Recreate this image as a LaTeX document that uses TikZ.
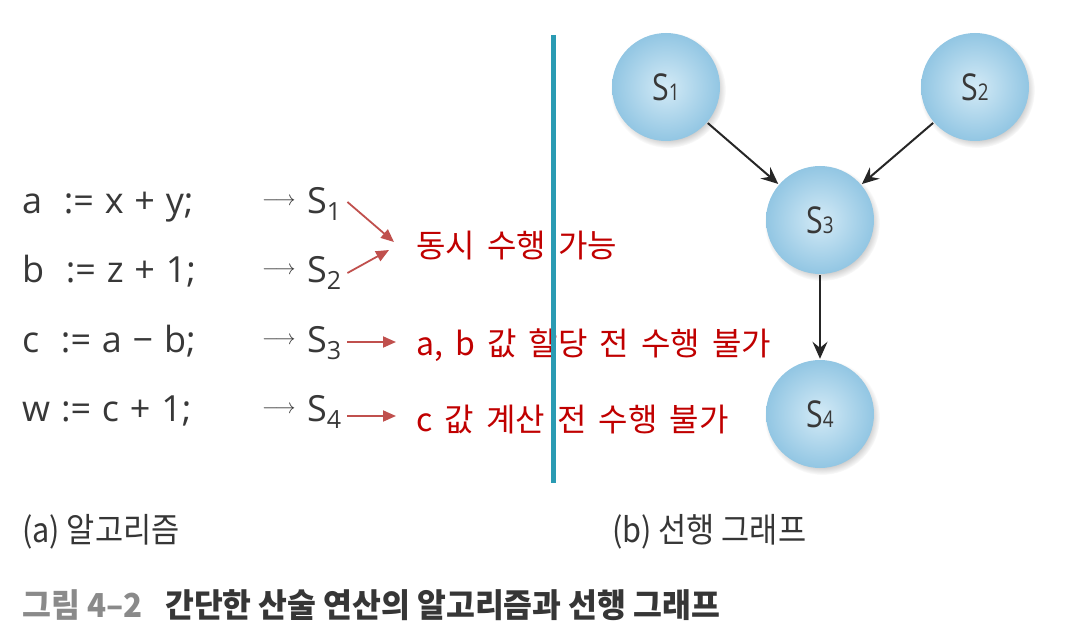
\documentclass[tikz,border=0pt]{standalone}
\usepackage{fontspec}
\setmainfont{Open Sans}
\newfontfamily\kr{Noto Sans CJK KR}
\newfontfamily\krc{Noto Sans CJK KR}[FakeStretch=0.9]
\newfontfamily\krcap{Noto Sans CJK KR}[FakeStretch=0.95]
\newfontfamily\ballfont{Open Sans}[FakeStretch=0.82]
\usetikzlibrary{arrows.meta,shadows}
\definecolor{codegray}{HTML}{383838}
\definecolor{redtxt}{HTML}{C00000}
\definecolor{redarr}{HTML}{C0504D}
\definecolor{teal}{HTML}{2A9BB3}
\definecolor{ballin}{HTML}{D3EAF6}
\definecolor{ballout}{HTML}{92C6E3}
\definecolor{capgray}{HTML}{8A8A8A}
\definecolor{capdark}{HTML}{363636}
\newcommand{\codefont}{\fontsize{36}{36}\selectfont\spaceskip 0.3em\relax}
\newcommand{\notefont}{\kr\fontsize{32}{32}\selectfont\spaceskip 0.38em\relax}
\tikzset{
  codeline/.style={anchor=base west, inner sep=0pt, font=\codefont, text=codegray},
  stext/.style={anchor=base west, inner sep=0pt, font=\fontsize{36}{36}\selectfont, text=codegray},
  arrglyph/.style={anchor=base west, inner sep=0pt, text=codegray},
  note/.style={anchor=west, inner sep=0pt, font=\notefont, text=redtxt},
  redarrow/.style={draw=redarr, line width=1.8pt, -{Triangle[length=13pt,width=11pt]}},
  ball/.style={circle, minimum size=108pt, inner sep=0pt, inner color=ballin, outer color=ballout,
     circular drop shadow={shadow xshift=2pt, shadow yshift=-3pt, shadow scale=1.07, opacity=0.4},
     font=\ballfont\fontsize{37}{37}\selectfont, text=codegray},
  blackarrow/.style={draw=black!85, line width=2pt, shorten <=1pt, shorten >=1pt, -{Stealth[length=17pt,width=15pt,inset=6pt]}},
  sublabel/.style={anchor=base west, inner sep=0pt, font=\krc\fontsize{34}{34}\selectfont, text=capdark},
  caption/.style={anchor=base west, inner sep=0pt, font=\krcap\bfseries\fontsize{33}{33}\selectfont},
}
\newcommand{\codeS}[1]{S\raisebox{-0.21em}{\fontsize{25}{25}\selectfont #1}}
\newcommand{\codeArr}{\raisebox{8pt}{\fontsize{20}{20}\selectfont$\longrightarrow$}}
\newcommand{\ballS}[1]{S{\fontsize{23}{23}\selectfont #1}}
\begin{document}
\begin{tikzpicture}[x=1pt,y=-1pt]
\useasboundingbox (0,0) rectangle (1077,623);
% code lines
\node[codeline] (l1) at (22,213) {a\ \ := x + y;};
\node[codeline] (l2) at (22,282) {b\ \ := z + 1;};
\node[codeline] (l3) at (22,352) {c\ \ := a − b;};
\node[codeline] (l4) at (22,421) {w := c + 1;};
\node[arrglyph] (r1) at (262,213) {\codeArr};
\node[arrglyph] (r2) at (262,282) {\codeArr};
\node[arrglyph] (r3) at (262,352) {\codeArr};
\node[arrglyph] (r4) at (262,421) {\codeArr};
\node[stext] (c1) at (307,213) {\codeS{1}};
\node[stext] (c2) at (307,282) {\codeS{2}};
\node[stext] (c3) at (307,352) {\codeS{3}};
\node[stext] (c4) at (307,421) {\codeS{4}};
% notes
\node[note] (t1) at (416,246) {동시 수행 가능};
\node[note] (t2) at (416,345) {a, b 값 할당 전 수행 불가};
\node[note] (t3) at (416,420) {c 값 계산 전 수행 불가};
\coordinate (e1) at (394,242);
\coordinate (e2) at (389,250);
\draw[redarrow] ([xshift=6pt]c1.east |- 0,202) -- (e1);
\draw[redarrow] ([xshift=6pt]c2.east |- 0,273) -- (e2);
\draw[redarrow] ([xshift=6pt]c3.east |- 0,342) -- ([xshift=-20pt]t2.west |- 0,342);
\draw[redarrow] ([xshift=6pt]c4.east |- 0,416) -- ([xshift=-20pt]t3.west |- 0,416);
% divider
\coordinate (dtop) at (553,35);
\coordinate (dbot) at (553,483);
\draw[teal, line width=5pt] (dtop) -- (dbot);
% graph
\node[ball] (s1) at (666,87) {\ballS{1}};
\node[ball] (s2) at (975,87) {\ballS{2}};
\node[ball] (s3) at (820,220) {\ballS{3}};
\node[ball] (s4) at (820,414) {\ballS{4}};
\draw[blackarrow] (s1) -- (s3);
\draw[blackarrow] (s2) -- (s3);
\draw[blackarrow] (s3) -- (s4);
% sub labels
\node[sublabel] (la) at (22,542) {(a) 알고리즘};
\node[sublabel] (lb) at (612,542) {(b) 선행 그래프};
% caption
\node[caption, text=capgray] (cap1) at (22,617) {그림 4–2};
\node[caption, text=capdark] (cap2) at (165,617) {간단한 산술 연산의 알고리즘과 선행 그래프};
\end{tikzpicture}
\end{document}
